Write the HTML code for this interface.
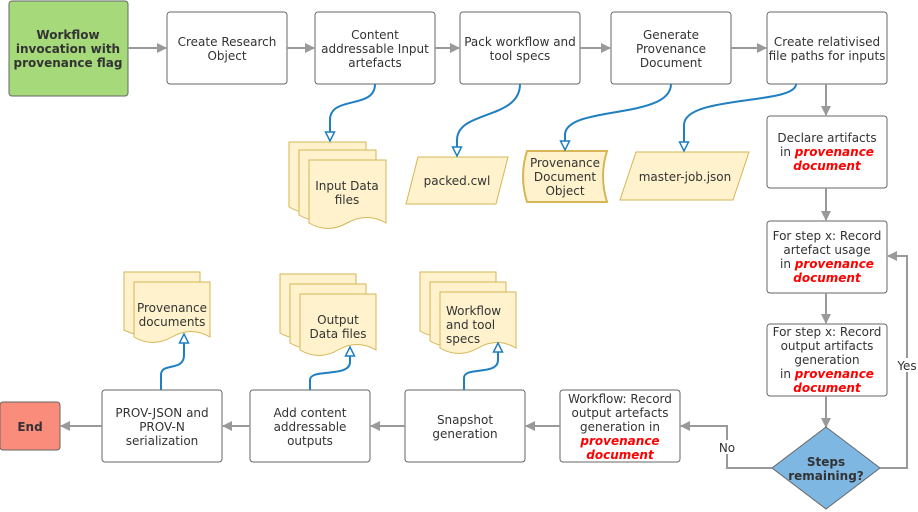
<!DOCTYPE html>
<html><head><meta charset="utf-8"><style>
html,body{margin:0;padding:0;background:#fff;}
svg{display:block;font-family:"DejaVu Sans","Liberation Sans",sans-serif;font-size:12px;}
.b{fill:#fff;stroke:#666;stroke-width:1;}
.t{fill:#333;text-anchor:middle;}
.r{fill:#f00;font-weight:bold;font-style:italic;}
.g{stroke:#999;stroke-width:2;fill:none;}
.bl{stroke:#1f7fc1;stroke-width:2;fill:none;}
.d{fill:#fff2cc;stroke:#d6b656;stroke-width:1;}
</style></head><body>
<svg width="918" height="512" viewBox="0 0 918 512" xmlns="http://www.w3.org/2000/svg">
<defs>
<marker id="ga" markerWidth="10" markerHeight="10" refX="9" refY="5" orient="auto" markerUnits="userSpaceOnUse"><path d="M0,0 L10,5 L0,10 Z" fill="#999"/></marker>
<marker id="ba" markerWidth="12" markerHeight="12" refX="10" refY="6" orient="auto" markerUnits="userSpaceOnUse"><path d="M1,1.5 L10,6 L1,10.5 Z" fill="#fff" stroke="#1f7fc1" stroke-width="1.5"/></marker>
</defs>

<!-- top row -->
<rect x="9" y="1" width="119" height="95" rx="3" fill="#a5d97a" stroke="#666"/>
<text class="t" font-weight="bold" x="68" y="39">Workflow</text>
<text class="t" font-weight="bold" x="68" y="53">invocation with</text>
<text class="t" font-weight="bold" x="68" y="67">provenance flag</text>

<rect class="b" x="167" y="12" width="120" height="72" rx="3"/>
<text class="t" x="227" y="46">Create Research</text><text class="t" x="227" y="60">Object</text>

<rect class="b" x="315" y="12" width="120" height="72" rx="3"/>
<text class="t" x="375" y="39">Content</text><text class="t" x="375" y="53">addressable Input</text><text class="t" x="375" y="67">artefacts</text>

<rect class="b" x="460" y="12" width="120" height="72" rx="3"/>
<text class="t" x="520" y="46">Pack workflow and</text><text class="t" x="520" y="60">tool specs</text>

<rect class="b" x="611" y="12" width="120" height="72" rx="3"/>
<text class="t" x="671" y="39">Generate</text><text class="t" x="671" y="53">Provenance</text><text class="t" x="671" y="67">Document</text>

<rect class="b" x="767" y="12" width="120" height="72" rx="3"/>
<text class="t" x="827" y="46">Create relativised</text><text class="t" x="827" y="60">file paths for inputs</text>

<line class="g" x1="128" y1="48" x2="166" y2="48" marker-end="url(#ga)"/>
<line class="g" x1="287" y1="48" x2="314" y2="48" marker-end="url(#ga)"/>
<line class="g" x1="435" y1="48" x2="459" y2="48" marker-end="url(#ga)"/>
<line class="g" x1="580" y1="48" x2="610" y2="48" marker-end="url(#ga)"/>
<line class="g" x1="731" y1="48" x2="766" y2="48" marker-end="url(#ga)"/>

<!-- right column -->
<rect class="b" x="767" y="116" width="120" height="72" rx="3"/>
<text class="t" x="827" y="142">Declare artifacts</text>
<text class="t" x="827" y="156">in <tspan class="r">provenance</tspan></text>
<text class="t r" x="827" y="170">document</text>

<rect class="b" x="767" y="221" width="120" height="72" rx="3"/>
<text class="t" x="827" y="240">For step x: Record</text>
<text class="t" x="827" y="254">artefact usage</text>
<text class="t" x="827" y="268">in <tspan class="r">provenance</tspan></text>
<text class="t r" x="827" y="282">document</text>

<rect class="b" x="767" y="324" width="120" height="72" rx="3"/>
<text class="t" x="827" y="336">For step x: Record</text>
<text class="t" x="827" y="350">output artifacts</text>
<text class="t" x="827" y="364">generation</text>
<text class="t" x="827" y="378">in <tspan class="r">provenance</tspan></text>
<text class="t r" x="827" y="392">document</text>

<line class="g" x1="826" y1="84" x2="826" y2="115" marker-end="url(#ga)"/>
<line class="g" x1="826" y1="188" x2="826" y2="220" marker-end="url(#ga)"/>
<line class="g" x1="826" y1="293" x2="826" y2="323" marker-end="url(#ga)"/>
<line class="g" x1="826" y1="396" x2="826" y2="427" marker-end="url(#ga)"/>

<polygon points="826,427 880,468 826,509 772,468" fill="#7fb7e3" stroke="#666"/>
<text class="t" font-weight="bold" x="826" y="466">Steps</text>
<text class="t" font-weight="bold" x="826" y="480">remaining?</text>

<polyline class="g" points="880,468 907,468 907,256 888,256" marker-end="url(#ga)"/>
<rect x="896" y="358" width="22" height="14" fill="#fff"/>
<text class="t" x="907" y="370">Yes</text>
<polyline class="g" points="772,468 727,468 727,426 681,426" marker-end="url(#ga)"/>
<rect x="716" y="440" width="22" height="14" fill="#fff"/>
<text class="t" x="727" y="452">No</text>

<!-- bottom row -->
<rect class="b" x="560" y="390" width="120" height="72" rx="3"/>
<text class="t" x="620" y="403">Workflow: Record</text>
<text class="t" x="620" y="417">output artefacts</text>
<text class="t" x="620" y="431">generation in</text>
<text class="t r" x="620" y="445">provenance</text>
<text class="t r" x="620" y="459">document</text>

<rect class="b" x="405" y="390" width="120" height="72" rx="3"/>
<text class="t" x="465" y="424">Snapshot</text><text class="t" x="465" y="438">generation</text>

<rect class="b" x="250" y="390" width="120" height="72" rx="3"/>
<text class="t" x="310" y="417">Add content</text><text class="t" x="310" y="431">addressable</text><text class="t" x="310" y="445">outputs</text>

<rect class="b" x="102" y="390" width="120" height="72" rx="3"/>
<text class="t" x="162" y="417">PROV-JSON and</text><text class="t" x="162" y="431">PROV-N</text><text class="t" x="162" y="445">serialization</text>

<rect x="0" y="402" width="60" height="48" rx="3" fill="#fa8c7c" stroke="#666"/>
<text class="t" font-weight="bold" x="30" y="431">End</text>

<line class="g" x1="560" y1="426" x2="526" y2="426" marker-end="url(#ga)"/>
<line class="g" x1="405" y1="426" x2="371" y2="426" marker-end="url(#ga)"/>
<line class="g" x1="250" y1="426" x2="223" y2="426" marker-end="url(#ga)"/>
<line class="g" x1="102" y1="426" x2="61" y2="426" marker-end="url(#ga)"/>

<!-- data shapes top -->
<path class="d" d="M289,142 H366 V207 Q347,196 327,207 Q308,218 289,207 Z"/>
<path class="d" d="M299,150 H376 V215 Q357,204 337,215 Q318,226 299,215 Z"/>
<path class="d" d="M309,160 H386 V223 Q367,212 347,223 Q328,234 309,223 Z"/>
<text class="t" x="347" y="190">Input Data</text><text class="t" x="347" y="204">files</text>

<polygon class="d" points="418,157 508,157 496,204 406,204"/>
<text class="t" x="457" y="185">packed.cwl</text>

<path d="M527,151 H607 Q599,176 607,202 H527 Q519,176 527,151 Z" fill="#fff2cc" stroke="#d6b656" stroke-width="2"/>
<text class="t" x="565" y="167">Provenance</text><text class="t" x="565" y="181">Document</text><text class="t" x="565" y="195">Object</text>

<polygon class="d" points="636,152 749,152 733,200 620,200"/>
<text class="t" x="685" y="181">master-job.json</text>

<!-- data shapes bottom -->
<path class="d" d="M124,272 H200 V330 Q181,320 162,330 Q143,340 124,330 Z"/>
<path class="d" d="M134,282 H210 V337 Q191,326 172,337 Q153,348 134,337 Z"/>
<text class="t" x="172" y="312">Provenance</text><text class="t" x="172" y="326">documents</text>

<path class="d" d="M280,274 H356 V333 Q337,322 318,333 Q299,344 280,333 Z"/>
<path class="d" d="M290,284 H366 V343 Q347,332 328,343 Q309,354 290,343 Z"/>
<path class="d" d="M300,294 H376 V350 Q357,339 338,350 Q319,361 300,350 Z"/>
<text class="t" x="338" y="324">Output</text><text class="t" x="338" y="338">Data files</text>

<path class="d" d="M420,272 H496 V331 Q477,320 458,331 Q439,342 420,331 Z"/>
<path class="d" d="M430,282 H506 V341 Q487,330 468,341 Q449,352 430,341 Z"/>
<path class="d" d="M440,292 H516 V348 Q497,337 478,348 Q459,359 440,348 Z"/>
<text class="t" x="446" y="315" text-anchor="start" style="text-anchor:start">Workflow</text>
<text x="446" y="329" fill="#333">and tool</text>
<text x="446" y="343" fill="#333">specs</text>

<!-- blue connectors top -->
<path class="bl" d="M375,84 C375,110 330,95 330,120 V141" marker-end="url(#ba)"/>
<path class="bl" d="M520,84 C520,120 457,110 457,140 V156" marker-end="url(#ba)"/>
<path class="bl" d="M671,84 C671,120 565,105 565,135 V150" marker-end="url(#ba)"/>
<path class="bl" d="M796,84 C796,105 684,95 684,125 V151" marker-end="url(#ba)"/>

<!-- blue connectors bottom -->
<path class="bl" d="M161,390 V375 C161,362 184,372 184,355 V334" marker-end="url(#ba)"/>
<path class="bl" d="M310,390 V380 C310,368 350,378 350,362 V347" marker-end="url(#ba)"/>
<path class="bl" d="M464,390 V378 C464,366 498,376 498,360 V343" marker-end="url(#ba)"/>
</svg>
</body></html>
